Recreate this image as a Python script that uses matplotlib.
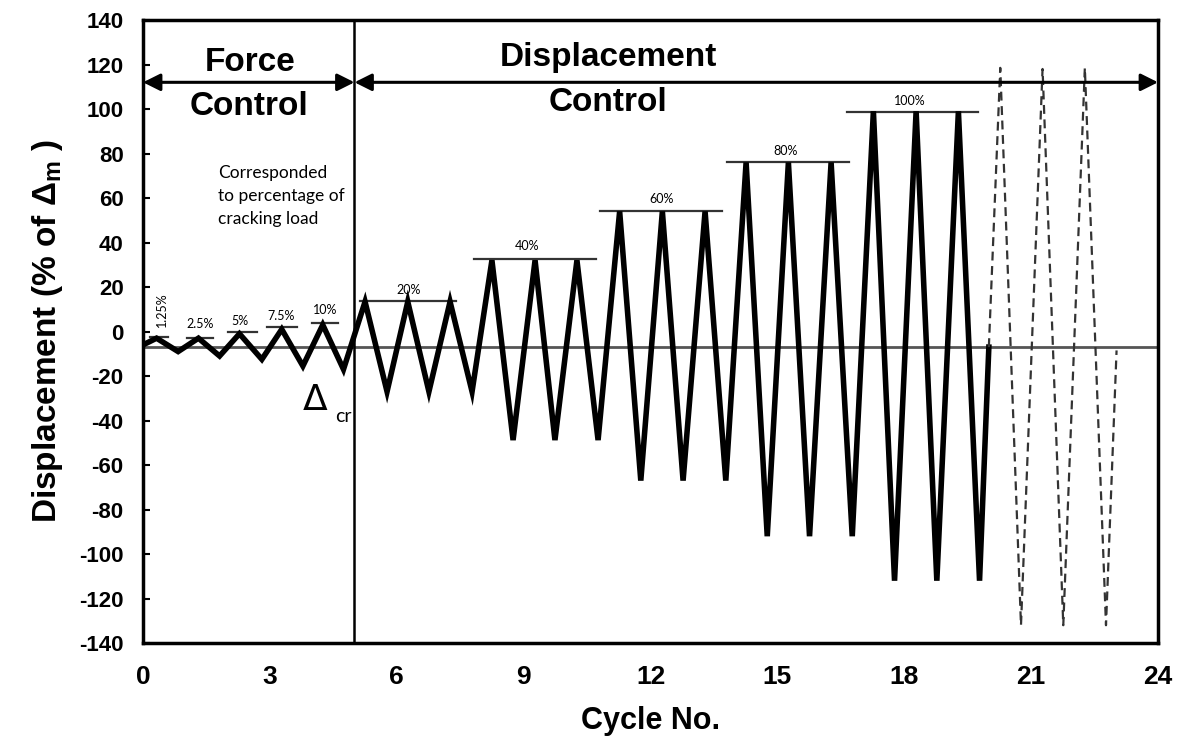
import matplotlib
matplotlib.use("Agg")
import matplotlib.pyplot as plt
from matplotlib import font_manager

# ---------------- data ----------------
solid_x = [0.0, 0.32, 0.83, 1.31, 1.81, 2.28, 2.81, 3.28, 3.78, 4.25, 4.74,
           5.25, 5.77, 6.26, 6.76, 7.26, 7.78,
           8.25, 8.75, 9.27, 9.74, 10.26, 10.76,
           11.27, 11.77, 12.28, 12.77, 13.29, 13.78,
           14.26, 14.76, 15.26, 15.76, 16.27, 16.77,
           17.27, 17.77, 18.28, 18.77, 19.28, 19.78, 20.0]
solid_y = [-6, -3, -9, -3, -11, -1, -12.5, 1, -15.5, 3, -17,
           13.4, -27, 13.4, -27, 13.4, -27,
           32, -48.8, 32, -48.8, 32, -48.8,
           54, -67, 54, -67, 54, -67,
           76, -92, 76, -92, 76, -92,
           99, -112, 99, -112, 99, -112, -7]

dashed_x = [20.0, 20.27, 20.76, 21.27, 21.76, 22.27, 22.77, 23.02]
dashed_y = [-7, 118.5, -132, 118, -132, 118.5, -132, -8.5]

baseline_y = -7

level_labels = ["1.25%", "2.5%", "5%", "7.5%", "10%", "20%", "40%", "60%", "80%", "100%"]
level_y = [-2.4, -2.8, -0.2, 2.0, 4.0, 13.8, 32.6, 54.2, 76.3, 98.8]
level_x0 = [0.17, 1.03, 2.01, 2.93, 3.99, 5.13, 7.83, 10.80, 13.80, 16.64]
level_x1 = [0.59, 1.66, 2.70, 3.64, 4.61, 7.40, 10.71, 13.68, 16.70, 19.75]

x_ticks = list(range(0, 25, 3))
y_ticks = list(range(-140, 141, 20))
phase_split = 5

# ---------------- fonts ----------------
avail = {f.name for f in font_manager.fontManager.ttflist}
bold_family = [f for f in ["Liberation Sans Narrow", "Liberation Sans", "DejaVu Sans"] if f in avail]
small_family = [f for f in ["Lato", "Open Sans", "DejaVu Sans"] if f in avail]
plt.rcParams['font.family'] = bold_family + ["DejaVu Sans"]
plt.rcParams['axes.unicode_minus'] = False
plt.rcParams['mathtext.fontset'] = 'custom'
plt.rcParams['mathtext.rm'] = bold_family[0]

fig = plt.figure(figsize=(11.86, 7.55), dpi=100)
ax = fig.add_axes([0.1206, 0.1483, 0.9764 - 0.1206, 0.9735 - 0.1483])

ax.set_xlim(0, 24)
ax.set_ylim(-140, 140)

# baseline
ax.plot([0, 24], [baseline_y, baseline_y], color="#555555", lw=2.0, zorder=1)
# phase divider
ax.axvline(phase_split, color="black", lw=1.8, zorder=2)

# waveform
ax.plot(solid_x, solid_y, color="black", lw=4.0, solid_joinstyle="miter", zorder=3)
ax.plot(dashed_x, dashed_y, color="#333333", lw=1.6, dashes=(4, 2.5), zorder=3)

# level bars and labels
label_pos = [(0.44, 10), (1.35, 3.5), (2.29, 4.6), (3.27, 7.0), (4.3, 9.6),
             (6.27, 18.6), (9.07, 38.3), (12.27, 59.5), (15.2, 81.3), (18.14, 103.5)]
for i, lab in enumerate(level_labels):
    ax.plot([level_x0[i], level_x1[i]], [level_y[i], level_y[i]], color="#333333", lw=1.6, zorder=2)
    lx, ly = label_pos[i]
    if i == 0:
        ax.text(lx, ly, lab, rotation=90, ha="center", va="center", fontsize=9,
                family=small_family)
    else:
        ax.text(lx, ly, lab, ha="center", va="center", fontsize=9, family=small_family)

# arrows
arrow_y = 112
ax.annotate("", xy=(0, arrow_y), xytext=(phase_split, arrow_y),
            arrowprops=dict(arrowstyle="<|-|>", color="black", lw=2.2,
                            mutation_scale=26, shrinkA=0, shrinkB=0))
ax.annotate("", xy=(phase_split, arrow_y), xytext=(24, arrow_y),
            arrowprops=dict(arrowstyle="<|-|>", color="black", lw=2.2,
                            mutation_scale=26, shrinkA=0, shrinkB=0))

ax.text(2.53, 121, "Force", ha="center", va="center", fontsize=24, fontweight="bold")
ax.text(2.5, 101, "Control", ha="center", va="center", fontsize=24, fontweight="bold")
ax.text(11.0, 123, "Displacement", ha="center", va="center", fontsize=24, fontweight="bold")
ax.text(11.0, 103, "Control", ha="center", va="center", fontsize=24, fontweight="bold")

ax.text(1.78, 61, "Corresponded\nto percentage of\ncracking load", ha="left", va="center",
        fontsize=12.5, family=small_family, linespacing=1.55)

ax.text(4.08, -31, "Δ", ha="center", va="center", fontsize=26, family=["DejaVu Sans"])
ax.text(4.74, -38, "cr", ha="center", va="center", fontsize=14, family=small_family)

# axes styling
for s in ax.spines.values():
    s.set_linewidth(2.5)
ax.set_xticks(x_ticks)
ax.set_yticks(y_ticks)
ax.tick_params(axis="y", direction="in", length=5, width=1.5, pad=14, labelsize=16)
ax.tick_params(axis="x", length=0, pad=16, labelsize=19)
for lab in ax.get_xticklabels() + ax.get_yticklabels():
    lab.set_fontweight("bold")

ax.set_xlabel("Cycle No.", fontsize=22, fontweight="bold", labelpad=12)
ax.set_ylabel("Displacement (% of Δ$_\\mathregular{m}$ )", fontsize=24, fontweight="bold", labelpad=10)

fig.savefig("out.png", dpi=100)
